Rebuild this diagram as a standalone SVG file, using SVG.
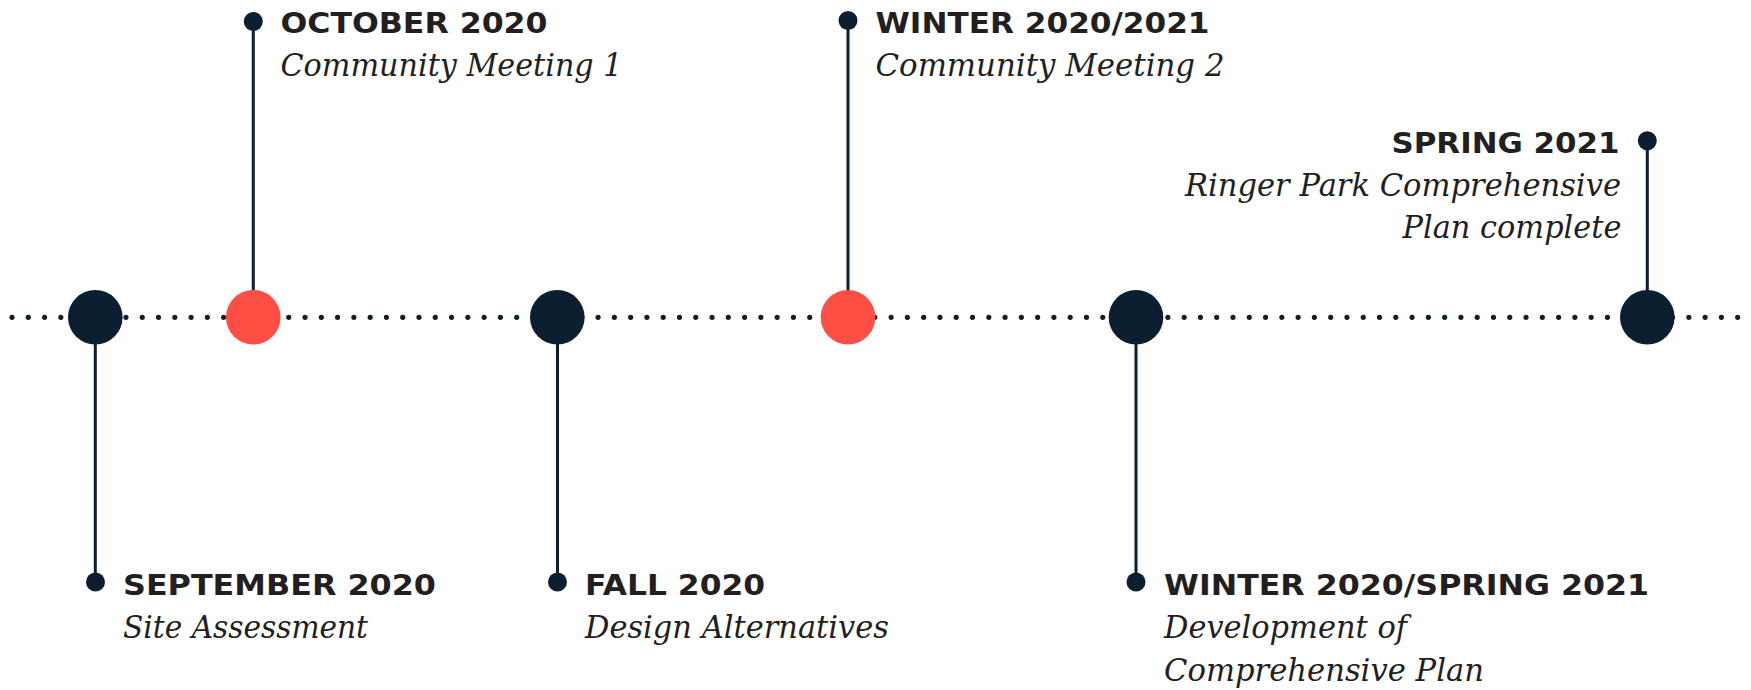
<svg xmlns="http://www.w3.org/2000/svg" width="1751" height="690" viewBox="0 0 1751 690">
<style>
.bg{fill:#ffffff}
.dots{stroke:#0c1f30;stroke-width:5.2;stroke-linecap:round;stroke-dasharray:0 16.28;fill:none}
.stem{stroke:#0c1f30;stroke-width:3;fill:none}
.big{fill:#0c1f30}
.red{fill:#ff4f44}
.pin{fill:#0c1f30}
.ttl{font-family:"DejaVu Sans","Liberation Sans",sans-serif;font-weight:bold;font-size:29px;fill:#231f20}
.sub{font-family:"DejaVu Serif","Liberation Serif",serif;font-style:italic;font-size:32.5px;fill:#231f20}
</style>
<rect class="bg" x="0" y="0" width="1751" height="690"/>
<g id="connectors">
<line class="dots" x1="12" y1="317.3" x2="1751" y2="317.3"/>
<line class="stem" x1="95.3" y1="317" x2="95.3" y2="582"/>
<line class="stem" x1="253.3" y1="22" x2="253.3" y2="317"/>
<line class="stem" x1="557.5" y1="317" x2="557.5" y2="582"/>
<line class="stem" x1="848" y1="21" x2="848" y2="317"/>
<line class="stem" x1="1136" y1="317" x2="1136" y2="582"/>
<line class="stem" x1="1647.3" y1="141" x2="1647.3" y2="317"/>
</g>
<g id="sep2020">
<circle class="big" cx="95.3" cy="317.3" r="27.3"/>
<circle class="pin" cx="95.5" cy="582" r="9.5"/>
<text class="ttl" x="123" y="595" textLength="313" lengthAdjust="spacingAndGlyphs">SEPTEMBER 2020</text>
<text class="sub" x="123" y="638" textLength="245" lengthAdjust="spacingAndGlyphs">Site Assessment</text>
</g>
<g id="oct2020">
<circle class="red" cx="253.3" cy="317.3" r="27.3"/>
<circle class="pin" cx="253.3" cy="21.5" r="9.5"/>
<text class="ttl" x="280.5" y="33" textLength="267" lengthAdjust="spacingAndGlyphs">OCTOBER 2020</text>
<text class="sub" x="280.5" y="76" textLength="342" lengthAdjust="spacingAndGlyphs">Community Meeting 1</text>
</g>
<g id="fall2020">
<circle class="big" cx="557.3" cy="317.3" r="27.3"/>
<circle class="pin" cx="557.5" cy="582" r="9.5"/>
<text class="ttl" x="585" y="595" textLength="180" lengthAdjust="spacingAndGlyphs">FALL 2020</text>
<text class="sub" x="585" y="638" textLength="304" lengthAdjust="spacingAndGlyphs">Design Alternatives</text>
</g>
<g id="winter2020">
<circle class="red" cx="848" cy="317.3" r="27.3"/>
<circle class="pin" cx="848" cy="20.5" r="9.5"/>
<text class="ttl" x="875.5" y="33" textLength="334" lengthAdjust="spacingAndGlyphs">WINTER 2020/2021</text>
<text class="sub" x="875.5" y="76" textLength="349" lengthAdjust="spacingAndGlyphs">Community Meeting 2</text>
</g>
<g id="winterspring">
<circle class="big" cx="1136" cy="317.3" r="27.3"/>
<circle class="pin" cx="1136" cy="582" r="9.5"/>
<text class="ttl" x="1164" y="595" textLength="485" lengthAdjust="spacingAndGlyphs">WINTER 2020/SPRING 2021</text>
<text class="sub" x="1164" y="638" textLength="243" lengthAdjust="spacingAndGlyphs">Development of</text>
<text class="sub" x="1164" y="681" textLength="320" lengthAdjust="spacingAndGlyphs">Comprehensive Plan</text>
</g>
<g id="spring2021">
<circle class="big" cx="1647.3" cy="317.3" r="27.3"/>
<circle class="pin" cx="1647.3" cy="140.7" r="9.5"/>
<text class="ttl" x="1391.5" y="153" textLength="228" lengthAdjust="spacingAndGlyphs">SPRING 2021</text>
<text class="sub" x="1185" y="196" textLength="436" lengthAdjust="spacingAndGlyphs">Ringer Park Comprehensive</text>
<text class="sub" x="1402.5" y="238" textLength="219" lengthAdjust="spacingAndGlyphs">Plan complete</text>
</g>
</svg>
